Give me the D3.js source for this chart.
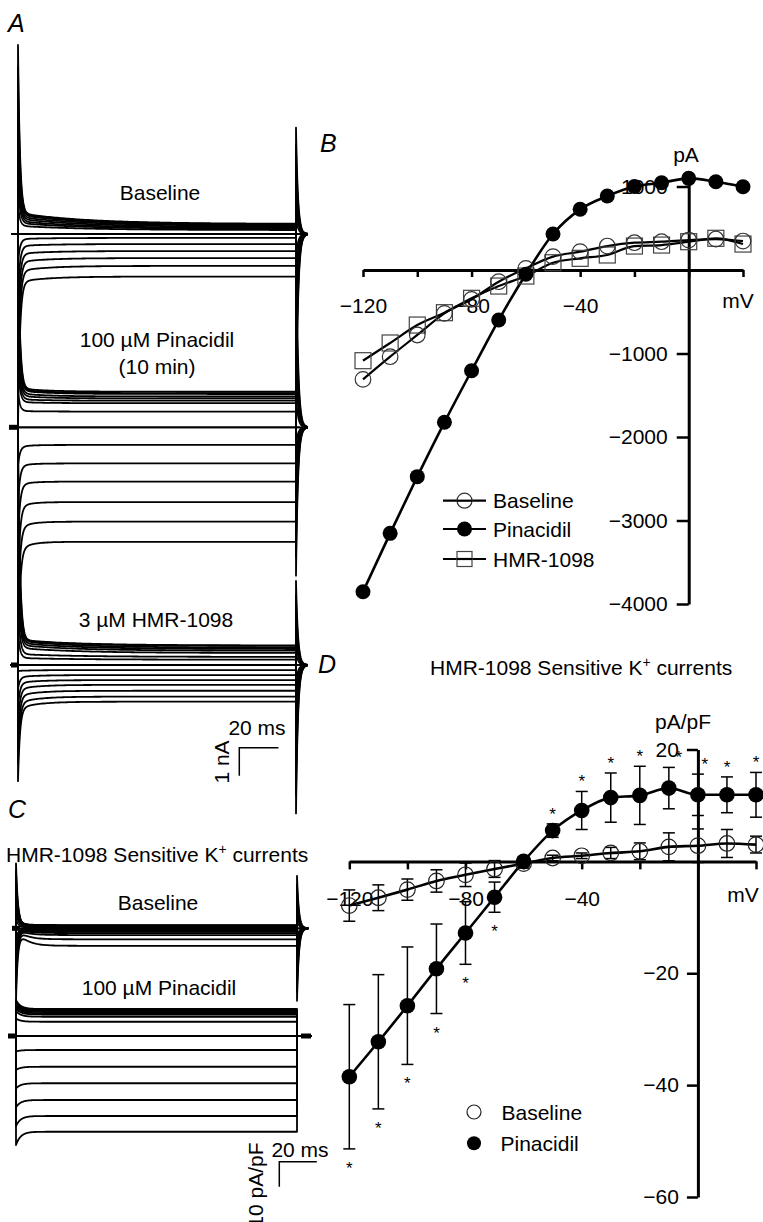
<!DOCTYPE html>
<html><head><meta charset="utf-8">
<script src="https://cdn.jsdelivr.net/npm/d3@7"></script>
<style>
html,body{margin:0;padding:0;background:#fff}
svg{display:block}
text{font-family:"Liberation Sans",Arial,Helvetica,sans-serif;fill:#000}
</style></head><body>
<svg id="c" width="763" height="1222"></svg>
<script>
// ---------------- DATA ----------------
const voltages = [-120,-110,-100,-90,-80,-70,-60,-50,-40,-30,-20,-10,0,10,20];

// Panel B: whole-cell current (pA)
const bBaseline  = [-1310,-1038,-778,-519,-351,-140,20,160,220,287,327,339,359,371,347];
const bPinacidil = [-3853,-3154,-2475,-1824,-1206,-599,-50,431,727,886,1000,1045,1098,1058,998];
const bHMR       = [-1086,-874,-659,-511,-339,-192,-72,87,140,180,287,299,339,380,311];

// Panel D: HMR-1098 sensitive current density (pA/pF), mean and SEM
const dBaseline     = [-7.9,-6.5,-5.05,-3.5,-2.4,-1.36,-0.4,0.6,1.0,1.5,1.8,2.6,2.8,3.2,3.0];
const dBaselineSem  = [2.8,2.3,1.9,2.0,2.1,1.5,0.8,0.5,0.5,1.0,1.5,2.5,3.0,2.5,1.5];
const dPinacidil    = [-38.5,-32.25,-25.8,-19.2,-12.8,-6.4,0,5.5,9.1,11.4,11.8,13.1,11.9,11.9,11.9];
const dPinacidilSem = [12.9,12,10.5,8,5.6,2.7,0.8,1.2,3.4,4.4,5.2,3.7,3.7,3.2,4];
const dSignificant  = [1,1,1,1,1,1,0,1,1,1,1,1,1,1,1];

// Axis ticks
const bXTicks  = [-120,-100,-80,-60,-40,-20,0,20];
const bXLabels = [-120,-80,-40];
const bYTicks  = [1000,-1000,-2000,-3000,-4000];
const dXTicks  = [-120,-100,-80,-60,-40,-20,0,20];
const dXLabels = [-120,-80,-40];
const dYTicks  = [20,-20,-40,-60];

// Panel A: current traces (nA), early value and end-of-step value per step voltage
const aBaseStart = [-1.71,-1.32,-1.0,-0.71,-0.43,-0.18,0,0.29,0.39,0.46,0.54,0.61,0.68,0.72,0.75];
const aBaseEnd   = [-1.52,-1.14,-0.86,-0.61,-0.36,-0.14,0,0.14,0.18,0.21,0.25,0.29,0.32,0.34,0.36];
const aPinStart  = [-4.38,-3.60,-2.84,-2.06,-1.38,-0.70,0,0.58,0.90,1.00,1.12,1.21,1.31,1.36,1.39];
const aPinEnd    = [-4.09,-3.37,-2.67,-1.94,-1.29,-0.63,0,0.56,0.86,0.95,1.03,1.10,1.19,1.22,1.27];
const aHMRStart  = [-1.55,-1.35,-1.10,-0.86,-0.64,-0.43,-0.21,0.25,0.39,0.61,0.71,0.79,0.86,0.89,0.90];
const aHMREnd    = [-1.31,-1.13,-0.92,-0.71,-0.54,-0.36,-0.18,0.19,0.29,0.43,0.51,0.57,0.62,0.68,0.70];

// Panel C: HMR-1098 sensitive traces (pA/pF)
const cBaseStart = [0,0,0,0,0,0,0,1.0,1.5,2.0,2.5,2.5,2.2,2.0,2.0];
const cBaseEnd   = [-7.0,-4.4,-2.7,-1.9,-1.4,-0.9,-0.4,0,0.3,0.5,0.7,0.9,1.0,1.2,1.3];
const cPinStart  = [-43.6,-36,-28.5,-21,-13.6,-6.2,0,7,10,11,12,12.5,13,13.5,14.4];
const cPinEnd    = [-38.3,-32,-25.6,-18.9,-12.3,-5.6,0,5.7,7.7,8.6,9.1,9.6,10.0,10.4,10.8];

// ---------------- DRAW ----------------
const svg = d3.select("#c");
const FS = 21;
const fmt = d3.format("d");

function txt(x, y, s, opt = {}) {
  const t = svg.append("text").attr("x", x).attr("y", y)
    .attr("font-size", opt.size || FS)
    .attr("text-anchor", opt.anchor || "start");
  if (opt.italic) t.attr("font-style", "italic");
  if (opt.rotate) t.attr("transform", `rotate(-90,${x},${y})`);
  t.text(s);
  return t;
}
function titleK(x, y) {
  const t = svg.append("text").attr("x", x).attr("y", y).attr("font-size", FS);
  t.append("tspan").text("HMR-1098 Sensitive K");
  t.append("tspan").attr("dy", -8).attr("font-size", 14).text("+");
  t.append("tspan").attr("dy", 8).text(" currents");
}

// ---- trace families (A and C) ----
const VH = -60;
function drawFamily(xs, ys, starts, ends, o) {
  const g = svg.append("g").attr("fill", "none").attr("stroke", "#000")
    .attr("stroke-width", o.sw || 1.8).attr("stroke-linejoin", "round");
  const line = d3.line().x(d => xs(d[0])).y(d => ys(d[1]));
  voltages.forEach((V, i) => {
    const s = starts[i], e = ends[i];
    let spk = 0, tail = 0, tau;
    if (V > VH) { spk = o.onUp * (V - VH) / (20 - VH); tail = o.tailDown * (V - VH) / (20 - VH); tau = o.tauOut; }
    else if (V < VH) { spk = o.onDown * (VH - V) / (VH + 120); tail = o.tailUp * (VH - V) / (VH + 120); tau = o.tauIn; }
    else { tau = o.tauIn; }
    const f = t => e + (s - e) * Math.exp(-t / tau) + spk * Math.exp(-t / o.tauS);
    const pts = [[0, 0]];
    for (let k = 0; k < 100; k++) pts.push([k * 0.1, f(k * 0.1)]);
    for (let t = 10; t <= o.T; t += 1) pts.push([t, f(t)]);
    pts.push([o.T, f(o.T)]);
    for (let k = 0; k <= 60; k++) pts.push([o.T + k * 0.1, tail * Math.exp(-(k * 0.1) / o.tauS)]);
    g.append("path").attr("d", line(pts));
  });
}
function zeroLine(ys, x1, x2, marks) {
  const y0 = ys(0);
  svg.append("line").attr("x1", x1).attr("x2", x2).attr("y1", y0).attr("y2", y0)
    .attr("stroke", "#000").attr("stroke-width", 1.8);
  (marks || []).forEach(m => svg.append("rect").attr("x", m[0]).attr("width", m[1] - m[0])
    .attr("y", y0 - 2.5).attr("height", 5).attr("fill", "#000"));
}

// Panel A scales
const xA = d3.scaleLinear().domain([0, 142]).range([18, 296]);
const yA1 = d3.scaleLinear().domain([0, 1]).range([234, 206]);
const yA2 = d3.scaleLinear().domain([0, 1]).range([427.3, 399.3]);
const yA3 = d3.scaleLinear().domain([0, 1]).range([665, 637]);

zeroLine(yA1, 11, 300, []);
zeroLine(yA2, 10, 300, [[9, 17]]);
zeroLine(yA3, 10, 300, [[11, 18]]);
drawFamily(xA, yA1, aBaseStart, aBaseEnd, {T:142, tauOut:35, tauIn:15, tauS:1, onUp:6.0, onDown:-5.2, tailUp:3.8, tailDown:-6.9});
drawFamily(xA, yA2, aPinStart, aPinEnd,   {T:142, tauOut:15, tauIn:6,  tauS:1, onUp:5.5, onDown:-4.1, tailUp:6.9, tailDown:-5.3});
drawFamily(xA, yA3, aHMRStart, aHMREnd,   {T:142, tauOut:30, tauIn:10, tauS:1, onUp:7.5, onDown:-2.6, tailUp:3.0, tailDown:-5.3});

txt(8, 32, "A", {italic:true, size:25});
txt(160, 200, "Baseline", {anchor:"middle"});
txt(157, 347, "100 µM Pinacidil", {anchor:"middle"});
txt(157, 374, "(10 min)", {anchor:"middle"});
txt(156, 627, "3 µM HMR-1098", {anchor:"middle"});

// A scale bar
{
  const x0 = 239.3, y0 = 747.7;
  const w = xA(20) - xA(0), h = yA1(0) - yA1(1);
  svg.append("path").attr("d", `M${x0 + w},${y0}H${x0}V${y0 + h}`)
    .attr("fill", "none").attr("stroke", "#000").attr("stroke-width", 1.5);
  txt(257, 735, "20 ms", {anchor:"middle"});
  txt(229, 762, "1 nA", {anchor:"middle", rotate:true});
}

// Panel C
const xC = d3.scaleLinear().domain([0, 150]).range([16, 297]);
const yC1 = d3.scaleLinear().domain([0, 10]).range([928.3, 903.3]);
const yC2 = d3.scaleLinear().domain([0, 10]).range([1036, 1011]);
txt(8, 818, "C", {italic:true, size:25});
titleK(6, 862);
zeroLine(yC1, 12, 300, [[12, 20]]);
zeroLine(yC2, 8, 312, [[8, 16], [301, 311]]);
drawFamily(xC, yC1, cBaseStart, cBaseEnd, {T:150, tauOut:5, tauIn:5, tauS:1, onUp:24, onDown:-29, tailUp:21, tailDown:-29});
drawFamily(xC, yC2, cPinStart, cPinEnd,   {T:150, tauOut:2.5, tauIn:2.5, tauS:1, onUp:0, onDown:0, tailUp:0, tailDown:0});
txt(158, 910, "Baseline", {anchor:"middle"});
txt(159, 995, "100 µM Pinacidil", {anchor:"middle"});
{
  const x0 = 279.3, y0 = 1161.7;
  const w = xC(20) - xC(0), h = yC1(0) - yC1(10);
  svg.append("path").attr("d", `M${x0 + w},${y0}H${x0}V${y0 + h}`)
    .attr("fill", "none").attr("stroke", "#000").attr("stroke-width", 1.5);
  txt(300, 1157, "20 ms", {anchor:"middle"});
  txt(263, 1185, "10 pA/pF", {anchor:"middle", rotate:true});
}

// ---- helpers for IV plots ----
function styleAxis(g, sw) {
  g.selectAll(".domain").attr("stroke-width", 3).attr("stroke", "#000");
  g.selectAll(".tick line").attr("stroke-width", sw).attr("stroke", "#000");
  g.selectAll(".tick text").attr("font-size", FS)
    .attr("font-family", '"Liberation Sans",Arial,sans-serif').attr("fill", "#000");
  g.attr("font-family", null).attr("font-size", null);
}

// ---------------- Panel B ----------------
const xB = d3.scaleLinear().domain([-120, 20]).range([363, 743]);
const yB = d3.scaleLinear().domain([-4000, 1150]).range([604, 174]);
txt(320, 152, "B", {italic:true, size:25});
{
  const gx = svg.append("g").attr("transform", `translate(0,${yB(0)})`)
    .call(d3.axisBottom(xB).tickValues(bXTicks).tickSize(7).tickSizeOuter(0).tickPadding(21)
      .tickFormat(d => bXLabels.includes(d) ? fmt(d) : ""));
  styleAxis(gx, 2.5);
  const gy = svg.append("g").attr("transform", `translate(${xB(0)},0)`)
    .call(d3.axisLeft(yB).tickValues(bYTicks).tickSize(12).tickSizeOuter(0).tickPadding(9).tickFormat(fmt));
  styleAxis(gy, 2.5);
  txt(686, 162, "pA", {anchor:"middle"});
  txt(738, 308, "mV", {anchor:"middle"});

  const line = d3.line().x((d, i) => xB(voltages[i])).y(d => yB(d)).curve(d3.curveMonotoneX);
  svg.append("path").attr("d", line(bBaseline)).attr("fill", "none").attr("stroke", "#000").attr("stroke-width", 2.2);
  svg.append("path").attr("d", line(bHMR)).attr("fill", "none").attr("stroke", "#000").attr("stroke-width", 2.2);
  svg.append("path").attr("d", line(bPinacidil)).attr("fill", "none").attr("stroke", "#000").attr("stroke-width", 2.6);

  svg.append("g").selectAll("rect").data(bHMR).join("rect")
    .attr("x", (d, i) => xB(voltages[i]) - 8).attr("y", d => yB(d) - 8)
    .attr("width", 16).attr("height", 16).attr("fill", "none").attr("stroke", "#444").attr("stroke-width", 1.2);
  svg.append("g").selectAll("circle").data(bBaseline).join("circle")
    .attr("cx", (d, i) => xB(voltages[i])).attr("cy", d => yB(d)).attr("r", 7.8)
    .attr("fill", "none").attr("stroke", "#333").attr("stroke-width", 1.2);
  svg.append("g").selectAll("circle").data(bPinacidil).join("circle")
    .attr("cx", (d, i) => xB(voltages[i])).attr("cy", d => yB(d)).attr("r", 7.5).attr("fill", "#000");

  // legend
  const leg = [{name:"Baseline", y:500.7, m:"o"}, {name:"Pinacidil", y:529, m:"f"}, {name:"HMR-1098", y:559, m:"s"}];
  leg.forEach(l => {
    svg.append("line").attr("x1", 443).attr("x2", 486).attr("y1", l.y).attr("y2", l.y)
      .attr("stroke", "#000").attr("stroke-width", 2.2);
    if (l.m === "o") svg.append("circle").attr("cx", 464.5).attr("cy", l.y).attr("r", 7.5).attr("fill", "#fff").attr("stroke", "#333").attr("stroke-width", 1.2);
    if (l.m === "f") svg.append("circle").attr("cx", 464.5).attr("cy", l.y).attr("r", 7.5).attr("fill", "#000");
    if (l.m === "s") svg.append("rect").attr("x", 457).attr("y", l.y - 7.5).attr("width", 15).attr("height", 15).attr("fill", "#fff").attr("stroke", "#444").attr("stroke-width", 1.2);
    if (l.m === "s" || l.m === "o") svg.append("line").attr("x1", 457).attr("x2", 472).attr("y1", l.y).attr("y2", l.y).attr("stroke", "#000").attr("stroke-width", 2.2);
    txt(493, l.y + 7.5, l.name);
  });
}

// ---------------- Panel D ----------------
const xD = d3.scaleLinear().domain([-120, 20]).range([349.3, 756]);
const yD = d3.scaleLinear().domain([-60, 20]).range([1197, 749.5]);
txt(318, 673, "D", {italic:true, size:25});
titleK(430, 675);
{
  const gx = svg.append("g").attr("transform", `translate(0,${yD(0)})`)
    .call(d3.axisBottom(xD).tickValues(dXTicks).tickSize(8).tickSizeOuter(0).tickPadding(21.5)
      .tickFormat(d => dXLabels.includes(d) ? fmt(d) : ""));
  styleAxis(gx, 2.5);
  const gy = svg.append("g").attr("transform", `translate(${xD(0)},0)`)
    .call(d3.axisLeft(yD).tickValues(dYTicks).tickSize(11).tickSizeOuter(0).tickPadding(8).tickFormat(fmt));
  styleAxis(gy, 2.5);
  txt(683, 729, "pA/pF", {anchor:"middle"});
  txt(743, 902, "mV", {anchor:"middle"});

  const line = d3.line().x((d, i) => xD(voltages[i])).y(d => yD(d)).curve(d3.curveMonotoneX);
  svg.append("path").attr("d", line(dBaseline)).attr("fill", "none").attr("stroke", "#000").attr("stroke-width", 2.6);
  svg.append("path").attr("d", line(dPinacidil)).attr("fill", "none").attr("stroke", "#000").attr("stroke-width", 2.6);

  function errBars(vals, sems) {
    const g = svg.append("g").attr("stroke", "#000").attr("stroke-width", 1.5);
    vals.forEach((v, i) => {
      const x = xD(voltages[i]), y1 = yD(v + sems[i]), y2 = yD(v - sems[i]);
      g.append("line").attr("x1", x).attr("x2", x).attr("y1", y1).attr("y2", y2);
      g.append("line").attr("x1", x - 6).attr("x2", x + 6).attr("y1", y1).attr("y2", y1);
      g.append("line").attr("x1", x - 6).attr("x2", x + 6).attr("y1", y2).attr("y2", y2);
    });
  }
  errBars(dPinacidil, dPinacidilSem);
  errBars(dBaseline, dBaselineSem);

  svg.append("g").selectAll("circle").data(dBaseline).join("circle")
    .attr("cx", (d, i) => xD(voltages[i])).attr("cy", d => yD(d)).attr("r", 7.8)
    .attr("fill", "none").attr("stroke", "#222").attr("stroke-width", 1.2);
  svg.append("g").selectAll("circle").data(dPinacidil).join("circle")
    .attr("cx", (d, i) => xD(voltages[i])).attr("cy", d => yD(d)).attr("r", 7.8).attr("fill", "#000");

  // significance stars
  dPinacidil.forEach((v, i) => {
    if (!dSignificant[i]) return;
    const V = voltages[i];
    const dx = V === -10 ? 10 : (V === 0 ? 7 : 0);
    const cy = v > 0 ? yD(v + dPinacidilSem[i]) - 14 : yD(v - dPinacidilSem[i]) + 15;
    txt(xD(V) + dx, cy + 10, "*", {anchor:"middle", size:17});
  });

  // legend
  svg.append("circle").attr("cx", 474).attr("cy", 1112).attr("r", 7).attr("fill", "none").attr("stroke", "#222").attr("stroke-width", 1.2);
  svg.append("circle").attr("cx", 474).attr("cy", 1143.3).attr("r", 7).attr("fill", "#000");
  txt(501.5, 1119.5, "Baseline");
  txt(500.5, 1151, "Pinacidil");
}
</script>
</body></html>
